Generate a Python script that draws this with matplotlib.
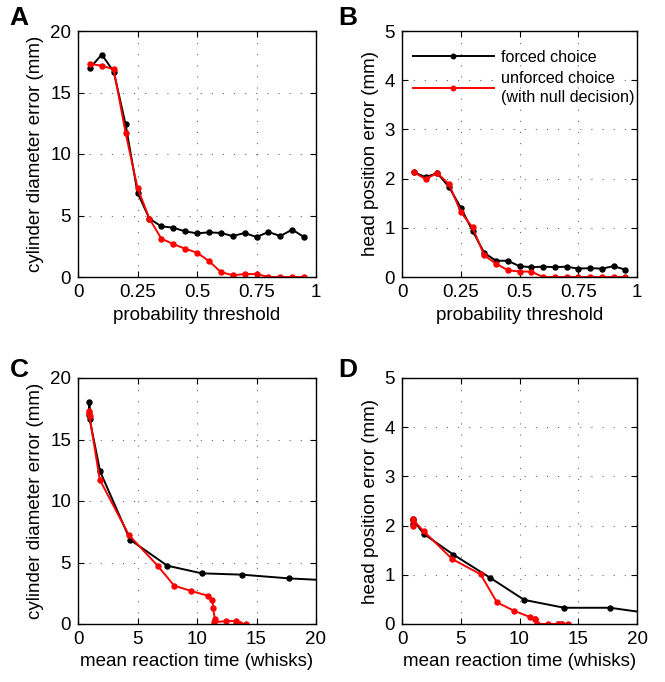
import matplotlib
matplotlib.use("Agg")
import matplotlib.pyplot as plt

plt.rcParams['font.family'] = ['Liberation Sans', 'DejaVu Sans']

# probability thresholds
thresholds = [0.05, 0.10, 0.15, 0.20, 0.25, 0.30, 0.35, 0.40, 0.45, 0.50,
              0.55, 0.60, 0.65, 0.70, 0.75, 0.80, 0.85, 0.90, 0.95]

# cylinder diameter error (mm)
diam_forced = [17.0, 18.08, 16.7, 12.4, 6.86, 4.74, 4.12, 4.01, 3.71, 3.55,
               3.63, 3.58, 3.33, 3.58, 3.25, 3.66, 3.33, 3.85, 3.25]
diam_unforced = [17.32, 17.18, 16.88, 11.73, 7.24, 4.74, 3.12, 2.68, 2.30, 1.98,
                 1.30, 0.41, 0.14, 0.24, 0.24, 0.0, 0.0, 0.0, 0.0]

# head position error (mm)
head_forced = [2.13, 2.03, 2.11, 1.83, 1.41, 0.94, 0.49, 0.33, 0.33, 0.22,
               0.20, 0.21, 0.20, 0.21, 0.17, 0.18, 0.17, 0.22, 0.15]
head_unforced = [2.13, 1.99, 2.11, 1.89, 1.32, 1.01, 0.44, 0.27, 0.14, 0.11,
                 0.11, 0.0, 0.0, 0.0, 0.0, 0.0, 0.0, 0.0, 0.0]

# mean reaction time (whisks) for the first thresholds (forced), and all (unforced)
rt_forced = [0.95, 0.96, 0.97, 1.86, 4.37, 7.5, 10.4, 13.8, 17.7, 21.0]
rt_unforced = [0.95, 0.96, 0.97, 1.83, 4.27, 6.69, 8.08, 9.52, 10.9, 11.3,
               11.35, 11.5, 11.45, 12.45, 13.25, 13.3, 13.5, 13.6, 14.1]

W, H = 665, 682
fig = plt.figure(figsize=(W / 100, H / 100), dpi=100)

def rect(l, r, t, b):
    return [l / W, 1 - b / H, (r - l) / W, (b - t) / H]

axA = fig.add_axes(rect(78, 316, 31, 277))
axB = fig.add_axes(rect(402, 637, 31, 277))
axC = fig.add_axes(rect(78, 316, 378, 624))
axD = fig.add_axes(rect(402, 637, 378, 624))

FS = 13.5
LFS = 11.6
line_kw = dict(lw=1.4, marker='o', ms=3.6)
RED = '#ff0000'

def style(ax, xticks, xlabels, ymax, yticks):
    ax.set_xlim(xticks[0], xticks[-1])
    ax.set_ylim(0, ymax)
    ax.set_xticks(xticks)
    ax.set_xticklabels(xlabels)
    ax.set_yticks(yticks)
    ax.tick_params(direction='in', length=4, width=0.8, top=True, right=True,
                   labelsize=FS, pad=5)
    ax.grid(True, color='black', linestyle=(0, (1, 9)), lw=0.8, alpha=0.6)
    for s in ax.spines.values():
        s.set_linewidth(1.0)

pt_ticks = [0, 0.25, 0.5, 0.75, 1]
pt_labels = ['0', '0.25', '0.5', '0.75', '1']
rt_ticks = [0, 5, 10, 15, 20]

# A
axA.plot(thresholds, diam_forced, color='black', **line_kw)
axA.plot(thresholds, diam_unforced, color=RED, **line_kw)
style(axA, pt_ticks, pt_labels, 20, [0, 5, 10, 15, 20])
axA.set_xlabel('probability threshold', fontsize=FS)
axA.set_ylabel('cylinder diameter error (mm)', fontsize=FS)

# B
axB.plot(thresholds, head_forced, color='black', label='forced choice', **line_kw)
axB.plot(thresholds, head_unforced, color=RED,
         label='unforced choice\n(with null decision)', **line_kw)
style(axB, pt_ticks, pt_labels, 5, [0, 1, 2, 3, 4, 5])
axB.set_xlabel('probability threshold', fontsize=FS)
axB.set_ylabel('head position error (mm)', fontsize=FS)
leg = axB.legend(loc='upper left', bbox_to_anchor=(11 / 235, 1 - 19 / 246),
                 frameon=False, fontsize=LFS, handlelength=5.0,
                 handletextpad=0.45, borderaxespad=0, borderpad=0,
                 labelspacing=0.35, markerscale=0.9)
for t in leg.get_texts():
    t.set_linespacing(1.35)

# C
n = len(rt_forced)
axC.plot(rt_forced, diam_forced[:n], color='black', **line_kw)
axC.plot(rt_unforced, diam_unforced, color=RED, **line_kw)
style(axC, rt_ticks, [str(t) for t in rt_ticks], 20, [0, 5, 10, 15, 20])
axC.set_xlabel('mean reaction time (whisks)', fontsize=FS)
axC.set_ylabel('cylinder diameter error (mm)', fontsize=FS)

# D
axD.plot(rt_forced, head_forced[:n], color='black', **line_kw)
axD.plot(rt_unforced, head_unforced, color=RED, **line_kw)
style(axD, rt_ticks, [str(t) for t in rt_ticks], 5, [0, 1, 2, 3, 4, 5])
axD.set_xlabel('mean reaction time (whisks)', fontsize=FS)
axD.set_ylabel('head position error (mm)', fontsize=FS)

for lbl, x, y in [('A', 19, 18), ('B', 348, 18), ('C', 19, 370), ('D', 348, 370)]:
    fig.text(x / W, 1 - y / H, lbl, fontsize=19, fontweight='bold',
             ha='center', va='center')

fig.savefig('out.png', dpi=100)
